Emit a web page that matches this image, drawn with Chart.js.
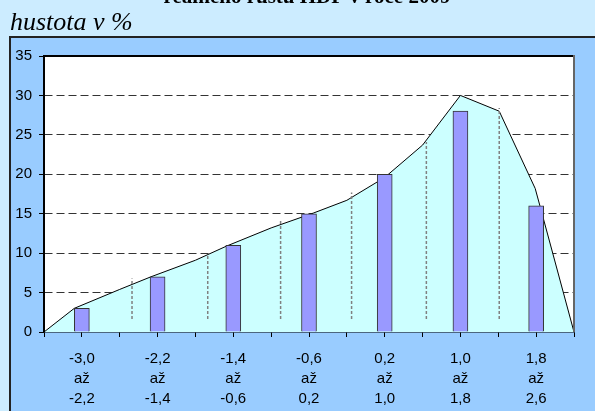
<!DOCTYPE html>
<html><head><meta charset="utf-8">
<script src="https://cdn.jsdelivr.net/npm/chart.js@4"></script>
<style>html,body{margin:0;padding:0;background:#CCECFF;overflow:hidden}#wrap{position:absolute;left:0;top:0;width:595px;height:411px}</style>
</head><body><div id="wrap"><canvas id="c" width="595" height="411"></canvas></div>
<script>
const titleText = 'reálného růstu HDP v roce 2009';
const yAxisTitle = 'hustota v %';
const binStart = [-3.0, -2.2, -1.4, -0.6, 0.2, 1.0, 1.8];
const binEnd = [-2.2, -1.4, -0.6, 0.2, 1.0, 1.8, 2.6];
const binJoin = 'až';
const barValues = [3, 7, 11, 15, 20, 28, 16];
const areaX = [-3.0, -2.68, -2.2, -1.87, -1.4, -1.07, -0.6, -0.15, 0.2, 0.6, 1.0, 1.4, 1.81, 2.19, 2.24, 2.6];
const areaY = [0, 3.0, 5.4, 7.0, 9.1, 10.9, 13.2, 15.1, 16.7, 19.6, 23.7, 30, 28, 18.2, 16.0, 0];
const dropX = [-2.07, -1.27, -0.50, 0.25, 1.04, 1.81];
const dropTop = [6.8, 9.8, 14.1, 17.7, 24.1, 28.4];
const dropBottom = 1.65;
const yMin = 0, yMax = 35, yStep = 5;

const centers = binStart.map((s, i) => (s + binEnd[i]) / 2);
const xTickValues = [...new Set([...binStart, ...binEnd, ...centers].map(v => Math.round(v * 100) / 100))].sort((a, b) => a - b);
const fmt = v => v.toFixed(1).replace('.', ',');

const dropData = [];
dropX.forEach((x, i) => {
  dropData.push({x: x, y: dropBottom}, {x: x, y: dropTop[i]}, {x: x, y: null});
});

const bgPlugin = {
  id: 'bg',
  beforeDraw(chart) {
    const ctx = chart.ctx, a = chart.chartArea;
    ctx.save();
    ctx.fillStyle = '#CCECFF';
    ctx.fillRect(0, 0, chart.width, chart.height);
    ctx.fillStyle = '#99CCFF';
    ctx.fillRect(9, 37, chart.width - 9, chart.height - 37);
    ctx.fillStyle = '#222';
    ctx.fillRect(9, 36, chart.width - 9, 2);
    ctx.fillRect(9, 36, 2, chart.height - 36);
    ctx.fillStyle = '#ffffff';
    ctx.fillRect(a.left, a.top, a.right - a.left, a.bottom - a.top);
    ctx.fillStyle = '#000';
    ctx.font = 'bold 21px "Liberation Serif", "Times New Roman", serif';
    ctx.textAlign = 'center';
    ctx.textBaseline = 'alphabetic';
    ctx.fillText(titleText, 307, 3);
    ctx.font = 'italic 26px "Liberation Serif", "Times New Roman", serif';
    ctx.textAlign = 'left';
    ctx.fillText(yAxisTitle, 10, 30);
    ctx.restore();
  },
  afterDraw(chart) {
    const ctx = chart.ctx, a = chart.chartArea;
    ctx.save();
    ctx.fillStyle = '#000';
    ctx.fillRect(a.left - 1, a.top - 1, a.right - a.left + 1, 2);
    ctx.fillRect(a.left - 1, a.top - 1, 2, a.bottom - a.top + 1);
    ctx.fillStyle = '#666';
    ctx.fillRect(a.right - 1, a.top - 1, 2, a.bottom - a.top + 1);
    ctx.restore();
  }
};

new Chart(document.getElementById('c'), {
  type: 'bar',
  data: {
    datasets: [
      {
        type: 'bar',
        data: centers.map((c, i) => ({x: c, y: barValues[i]})),
        backgroundColor: '#9999FF',
        borderColor: '#333333',
        borderWidth: 1,
        barThickness: 15,
        order: 1
      },
      {
        type: 'line',
        data: dropData,
        borderColor: '#808080',
        borderWidth: 1.5,
        borderDash: [3, 2],
        pointRadius: 0,
        spanGaps: false,
        fill: false,
        order: 2
      },
      {
        type: 'line',
        data: areaX.map((x, i) => ({x: x, y: areaY[i]})),
        borderColor: '#000000',
        borderWidth: 1,
        backgroundColor: '#CCFFFF',
        fill: 'origin',
        pointRadius: 0,
        tension: 0,
        order: 3
      }
    ]
  },
  options: {
    responsive: false,
    animation: false,
    events: [],
    layout: {padding: {left: 0, right: 21, top: 56, bottom: 0}},
    plugins: {legend: {display: false}, tooltip: {enabled: false}, title: {display: false}},
    scales: {
      x: {
        type: 'linear',
        min: binStart[0],
        max: binEnd[binEnd.length - 1],
        offset: false,
        afterBuildTicks(scale) { scale.ticks = xTickValues.map(v => ({value: v})); },
        afterFit(scale) { scale.height = 79; },
        grid: {display: true, drawOnChartArea: false, offset: false, tickLength: 5, tickColor: '#000', tickWidth: 1},
        border: {display: true, color: '#000', width: 1.5},
        ticks: {
          autoSkip: false, maxRotation: 0, minRotation: 0, padding: 12,
          color: '#000',
          font: {family: '"Liberation Sans", Arial, sans-serif', size: 15, lineHeight: 1.333},
          callback(value) {
            const i = centers.findIndex(c => Math.abs(c - value) < 1e-6);
            return i >= 0 ? [fmt(binStart[i]), binJoin, fmt(binEnd[i])] : '';
          }
        }
      },
      y: {
        type: 'linear',
        min: yMin, max: yMax,
        afterFit(scale) { scale.width = 44; },
        grid: {
          color: ctx => (ctx.tick && (ctx.tick.value === yMin || ctx.tick.value === yMax)) ? 'rgba(0,0,0,0)' : '#333',
          lineWidth: 1,
          tickLength: 5, tickColor: '#000', tickWidth: 1, tickBorderDash: []
        },
        border: {display: true, color: '#000', width: 1.5, dash: [8, 4]},
        ticks: {
          stepSize: yStep, padding: 7, color: '#000',
          font: {family: '"Liberation Sans", Arial, sans-serif', size: 15}
        }
      }
    }
  },
  plugins: [bgPlugin]
});
</script></body></html>
